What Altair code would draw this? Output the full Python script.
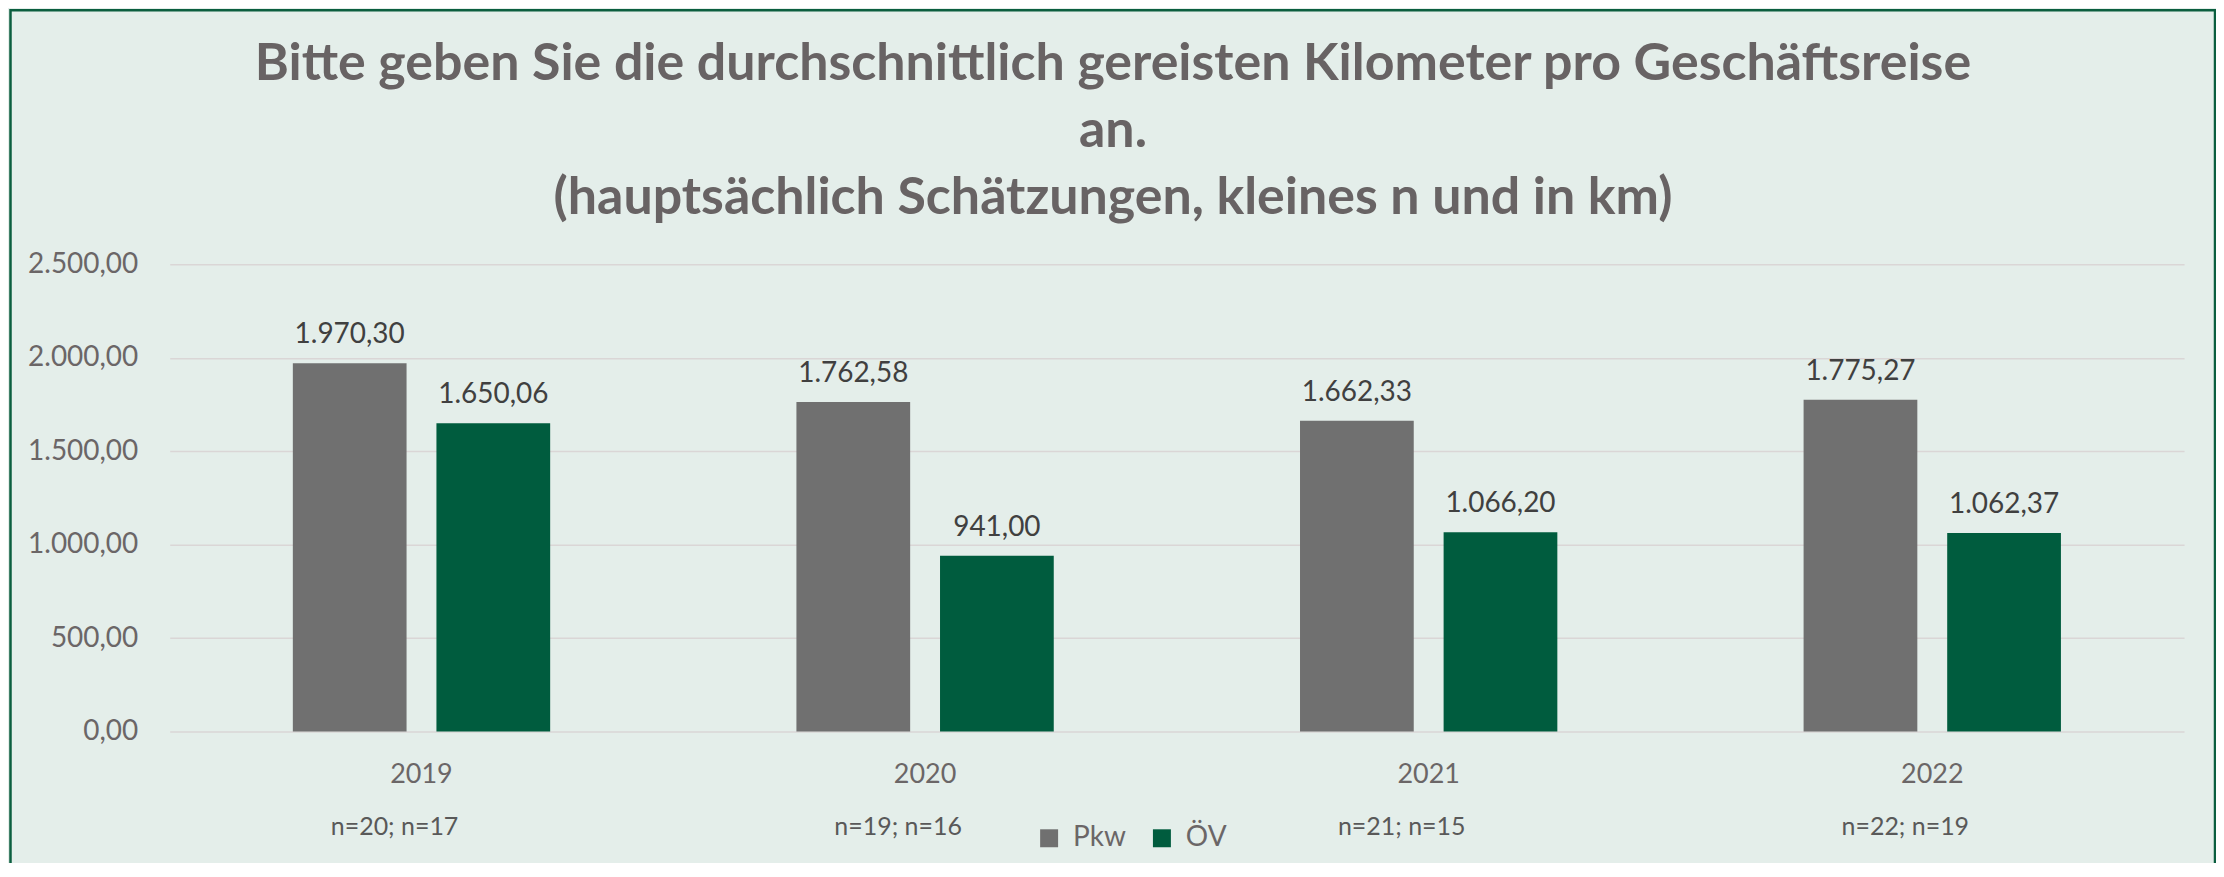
import altair as alt
import pandas as pd

# ---- data ----
years = ["2019", "2020", "2021", "2022"]
series = ["Pkw", "ÖV"]
pkw_values = [1970.30, 1762.58, 1662.33, 1775.27]
oev_values = [1650.06, 941.00, 1066.20, 1062.37]
n_labels = ["n=20; n=17", "n=19; n=16", "n=21; n=15", "n=22; n=19"]
y_ticks = [0, 500, 1000, 1500, 2000, 2500]
title_lines = [
    "Bitte geben Sie die durchschnittlich gereisten Kilometer pro Geschäftsreise",
    "an.",
    "(hauptsächlich Schätzungen, kleines n und in km)",
]
colors = ["#707070", "#005C3E"]


def de_format(v):
    s = f"{v:,.2f}"
    return s.replace(",", "#").replace(".", ",").replace("#", ".")


rows = []
for i, yr in enumerate(years):
    rows.append({"Jahr": yr, "Serie": "Pkw", "Wert": pkw_values[i], "Label": de_format(pkw_values[i])})
    rows.append({"Jahr": yr, "Serie": "ÖV", "Wert": oev_values[i], "Label": de_format(oev_values[i])})
df = pd.DataFrame(rows)
ndf = pd.DataFrame({"Jahr": years, "n": n_labels})
frame_df = pd.DataFrame({"k": [0]})

FONT = "Lato"
AXIS_COLOR = "#6B6667"

x_enc = alt.X(
    "Jahr:N",
    sort=years,
    scale=alt.Scale(paddingInner=0.489, paddingOuter=0.2445),
    axis=alt.Axis(
        title=None, labelAngle=0, labelFont=FONT, labelFontSize=27,
        labelColor=AXIS_COLOR, labelPadding=30, ticks=False, tickSize=0,
        domain=False, grid=False,
    ),
)
xo_enc = alt.XOffset("Serie:N", sort=series, scale=alt.Scale(paddingInner=0.208, paddingOuter=0))
y_enc = alt.Y(
    "Wert:Q",
    scale=alt.Scale(domain=[0, 2500], nice=False),
    axis=alt.Axis(
        title=None, values=y_ticks,
        labelExpr="replace(replace(replace(format(datum.value, ',.2f'), ',', '#'), '.', ','), '#', '.')",
        labelFont=FONT, labelFontSize=28, labelColor=AXIS_COLOR, labelPadding=32,
        ticks=False, tickSize=0, domain=False, gridColor="#DAD6D6", gridWidth=1.5,
    ),
)

frame = alt.Chart(frame_df).mark_rect(
    filled=False, stroke="#0B5E3F", strokeWidth=2.5, clip=False
).encode(
    x=alt.value(-159.5), x2=alt.value(2049), y=alt.value(-254.5), y2=alt.value(700)
)

bars = alt.Chart(df).mark_bar().encode(
    x=x_enc,
    xOffset=xo_enc,
    y=y_enc,
    color=alt.Color(
        "Serie:N",
        sort=series,
        scale=alt.Scale(domain=series, range=colors),
        legend=alt.Legend(
            title=None, orient="none", legendX=867, legendY=561,
            direction="horizontal", symbolType="square", symbolSize=324,
            symbolStrokeWidth=0, labelFont=FONT, labelFontSize=28,
            labelColor=AXIS_COLOR, labelOffset=10, columnPadding=22, padding=0,
        ),
    ),
)

value_text = alt.Chart(df).mark_text(
    baseline="alphabetic", dy=-20, font=FONT, fontSize=28, color="#404040"
).encode(x=x_enc, xOffset=xo_enc, y=y_enc, text="Label:N")

n_text = alt.Chart(ndf).mark_text(
    baseline="middle", dx=-27, font=FONT, fontSize=25, color="#595959"
).encode(x=x_enc, y=alt.value(564), text="n:N")

chart = alt.layer(frame, bars, value_text, n_text).properties(
    width=2018,
    height=468,
    title=alt.TitleParams(
        text=title_lines, font=FONT, fontSize=52, fontWeight="bold",
        color="#686364", lineHeight=67, anchor="middle", frame="group",
        dx=-64, offset=-216,
    ),
    autosize=alt.AutoSizeParams(type="none"),
    padding={"left": 162, "top": 256, "right": 32, "bottom": 131},
).configure(background="#E4EEEA").configure_view(strokeWidth=0)

chart.save("out.html", embed_options={"renderer": "svg", "actions": False})
